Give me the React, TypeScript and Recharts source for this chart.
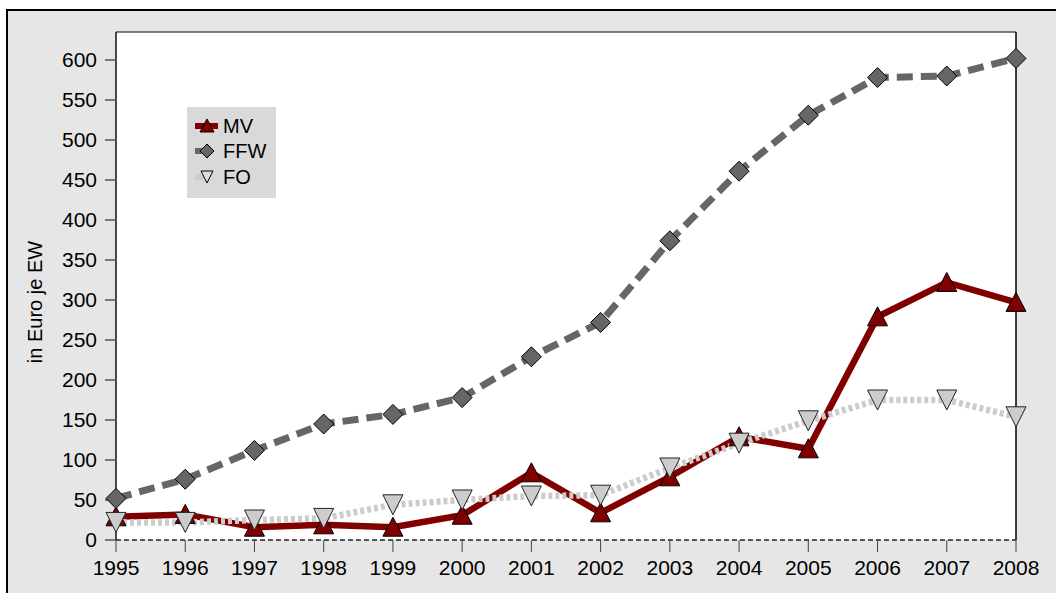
import React from "react";
import {
  LineChart,
  Line,
  XAxis,
  YAxis,
  CartesianGrid,
  ReferenceLine,
  Legend,
} from "recharts";

const years = [
  "1995", "1996", "1997", "1998", "1999", "2000", "2001",
  "2002", "2003", "2004", "2005", "2006", "2007", "2008",
];
const mv = [29, 32, 16, 19, 16, 31, 84, 34, 79, 129, 114, 279, 322, 297];
const ffw = [52, 76, 112, 145, 157, 178, 229, 272, 374, 461, 531, 578, 580, 602];
const fo = [22, 22, 25, 27, 44, 50, 55, 56, 90, 121, 149, 175, 175, 154];
const yTicks = [0, 50, 100, 150, 200, 250, 300, 350, 400, 450, 500, 550, 600];

const FONT = '"Liberation Sans", Arial, sans-serif';

const data = years.map((year, i) => ({
  year,
  MV: mv[i],
  FFW: ffw[i],
  FO: fo[i],
}));

const triangleUp = (props: any) => {
  const { cx, cy, index } = props;
  if (cx == null || cy == null) return <g key={`mv-${index}`} />;
  return (
    <polygon
      key={`mv-${index}`}
      points={`${cx},${cy - 10} ${cx + 10},${cy + 9} ${cx - 10},${cy + 9}`}
      fill="#800000"
      stroke="#000"
      strokeWidth={1}
    />
  );
};

const diamond = (props: any) => {
  const { cx, cy, index } = props;
  if (cx == null || cy == null) return <g key={`ffw-${index}`} />;
  return (
    <polygon
      key={`ffw-${index}`}
      points={`${cx},${cy - 10} ${cx + 10},${cy} ${cx},${cy + 10} ${cx - 10},${cy}`}
      fill="#666666"
      stroke="#000"
      strokeWidth={1}
    />
  );
};

const triangleDown = (props: any) => {
  const { cx, cy, index } = props;
  if (cx == null || cy == null) return <g key={`fo-${index}`} />;
  return (
    <polygon
      key={`fo-${index}`}
      points={`${cx - 10},${cy - 10} ${cx + 10},${cy - 10} ${cx},${cy + 10}`}
      fill="#cccccc"
      stroke="#222"
      strokeWidth={1}
    />
  );
};

const legendItems = [
  { name: "MV", color: "#800000", marker: "up", fill: "#800000" },
  { name: "FFW", color: "#666666", marker: "diamond", fill: "#666666" },
  { name: "FO", color: "#cccccc", marker: "down", fill: "#dddddd" },
];

const LegendBox = () => (
  <div
    style={{
      width: 89,
      height: 91,
      background: "#d9d9d9",
      fontFamily: FONT,
      fontSize: 20,
      color: "#000",
      boxSizing: "border-box",
      paddingTop: 6,
    }}
  >
    {legendItems.map((item) => {
      const c = 12;
      const m = 7;
      let shape: React.ReactNode = null;
      if (item.marker === "up") {
        shape = <polygon points={`${c},${10 - m} ${c + m},${10 + m - 1} ${c - m},${10 + m - 1}`} fill={item.fill} stroke="#000" />;
      } else if (item.marker === "diamond") {
        shape = <polygon points={`${c},${10 - m} ${c + m},10 ${c},${10 + m} ${c - m},10`} fill={item.fill} stroke="#000" />;
      } else {
        shape = <polygon points={`${c - m + 1},${10 - m + 1} ${c + m - 1},${10 - m + 1} ${c},${10 + m - 1}`} fill={item.fill} stroke="#000" />;
      }
      return (
        <div key={item.name} style={{ display: "flex", alignItems: "center", height: 25.5, paddingLeft: 8 }}>
          <svg width={24} height={20} style={{ marginRight: 4 }}>
            <line x1={0} y1={10} x2={item.name === "MV" ? 23 : 11} y2={10} stroke={item.color} strokeWidth={6} />
            {shape}
          </svg>
          <span style={{ lineHeight: "20px" }}>{item.name}</span>
        </div>
      );
    })}
  </div>
);

const YLabel = () => (
  <text
    x={42}
    y={302}
    transform="rotate(-90, 42, 302)"
    textAnchor="middle"
    fontFamily={FONT}
    fontSize={20}
    fill="#000"
  >
    in Euro je EW
  </text>
);

export default function App() {
  return (
    <div
      style={{
        position: "absolute",
        left: 0,
        top: 0,
        width: 1056,
        height: 593,
        overflow: "hidden",
        background: "#fff",
      }}
    >
      <div
        style={{
          position: "absolute",
          left: 6,
          top: 9,
          width: 1100,
          height: 640,
          background: "#e6e6e6",
          borderLeft: "2px solid #000",
          borderTop: "2px solid #000",
        }}
      />
      <div style={{ position: "absolute", left: 0, top: 0 }}>
        <LineChart
          width={1056}
          height={593}
          data={data}
          margin={{ top: 32, right: 40, bottom: 13, left: 56 }}
        >
          <rect x={116} y={32} width={900} height={508} fill="#fff" />
          <CartesianGrid
            horizontal
            vertical={false}
            stroke="#dddddd"
            strokeWidth={2}
            strokeDasharray="8 5"
          />
          <XAxis
            dataKey="year"
            scale="point"
            padding={{ left: 0, right: 0 }}
            height={40}
            axisLine={{ stroke: "#222", strokeDasharray: "5 3", strokeWidth: 1.5 }}
            tickLine={{ stroke: "#444" }}
            tickSize={12}
            tickMargin={8}
            tick={{ fill: "#000", fontSize: 21, fontFamily: FONT }}
            interval={0}
          />
          <YAxis
            width={60}
            domain={[0, 635]}
            ticks={yTicks}
            allowDataOverflow
            axisLine={{ stroke: "#111", strokeWidth: 1.5 }}
            tickLine={{ stroke: "#555", strokeWidth: 1.5 }}
            tickSize={11}
            tickMargin={8}
            tick={{ fill: "#000", fontSize: 21, fontFamily: FONT }}
            label={<YLabel />}
          />
          <ReferenceLine y={635} stroke="#555" strokeWidth={1.5} />
          <ReferenceLine x="2008" stroke="#000" strokeWidth={1.5} />
          <Legend
            layout="vertical"
            align="center"
            verticalAlign="middle"
            wrapperStyle={{ left: 187, top: 107, width: 89, height: 91 }}
            content={() => <LegendBox />}
          />
          <Line
            dataKey="MV"
            stroke="#800000"
            strokeWidth={6.5}
            dot={triangleUp}
            activeDot={false}
            isAnimationActive={false}
          />
          <Line
            dataKey="FFW"
            stroke="#666666"
            strokeWidth={7}
            strokeDasharray="16 8"
            dot={diamond}
            activeDot={false}
            isAnimationActive={false}
          />
          <Line
            dataKey="FO"
            stroke="#cccccc"
            strokeWidth={6.5}
            strokeDasharray="4 3"
            dot={triangleDown}
            activeDot={false}
            isAnimationActive={false}
          />
        </LineChart>
      </div>
    </div>
  );
}
